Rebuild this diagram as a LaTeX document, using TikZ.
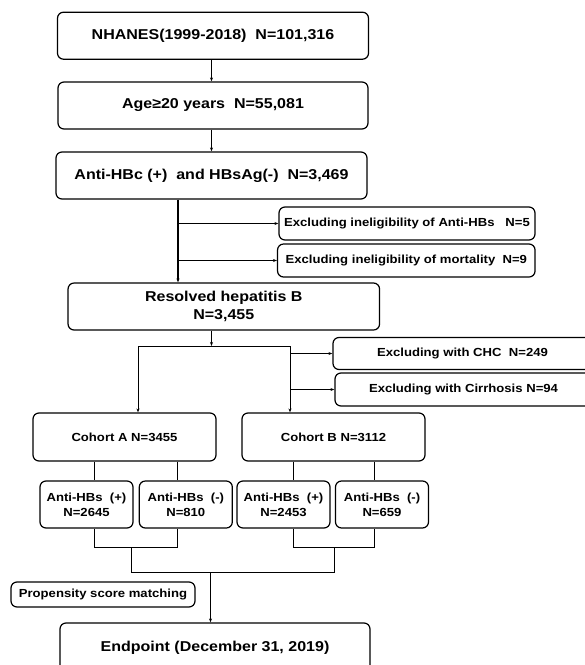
\documentclass[tikz,border=0pt]{standalone}
\usepackage{fontspec}
\setmainfont{Liberation Sans}[FakeStretch=1.12]
\usetikzlibrary{arrows.meta}

\begin{document}
\begin{tikzpicture}[x=1pt,y=-1pt,
  box/.style={draw,rounded corners=6pt,line width=1.2pt,inner sep=0pt,align=center},
  big/.style={font=\bfseries\fontsize{14.3}{18.5}\selectfont},
  small/.style={font=\bfseries\fontsize{11.7}{15}\selectfont},
  link/.style={line width=0.9pt},
  arr/.style={link,-{Stealth[length=4pt,width=3pt]}}]
\useasboundingbox (0,0) rectangle (585,665);
% main stream
\node[box,big,minimum width=311,minimum height=47] (nhanes) at (213,35.7) {NHANES(1999-2018)~~N=101,316};
\node[box,big,minimum width=310,minimum height=47] (age) at (213,105.5) {Age≥20 years~~N=55,081};
\node[box,big,minimum width=311,minimum height=47] (anti) at (211.5,175.5) {Anti-HBc (+)~~and HBsAg(-)~~N=3,469};
\node[box,small,minimum width=256,minimum height=33] (exa) at (407,223.5) {Excluding ineligibility of Anti-HBs~~~N=5};
\node[box,small,minimum width=257.5,minimum height=33] (exm) at (406.3,260.5) {Excluding ineligibility of mortality~~N=9};
\node[box,big,minimum width=311.5,minimum height=47] (res) at (223.8,306.5) {Resolved hepatitis B\\N=3,455};
\node[box,small,minimum width=259,minimum height=32] (chc) at (462.5,353.5) {Excluding with CHC~~N=249};
\node[box,small,minimum width=257,minimum height=33] (cir) at (463.5,389.5) {Excluding with Cirrhosis N=94};
% cohorts
\node[box,small,minimum width=183,minimum height=48] (coA) at (124.5,437) {Cohort A N=3455};
\node[box,small,minimum width=183,minimum height=48] (coB) at (333.5,437) {Cohort B N=3112};
\foreach \n/\x/\s/\v in {aP/86.5/+/2645,aN/185.8/-/810,bP/283.5/+/2453,bN/382/-/659}
  \node[box,small,minimum width=93,minimum height=47] (\n) at (\x,504.5) {Anti-HBs~~(\s)\\N=\v};
\node[box,small,minimum width=184,minimum height=25] (psm) at (103,594.5) {Propensity score matching};
\node[box,big,minimum width=310,minimum height=50] (endp) at (215,648) {Endpoint (December 31, 2019)};
% connectors
\draw[arr] (nhanes.south -| 211.5,0) -- (age.north -| 211.5,0);
\draw[arr] (age.south -| 211.5,0) -- (anti.north -| 211.5,0);
\draw[arr,line width=1.3pt] (anti.south -| 178,0) -- (res.north -| 178,0);
\draw[arr] (exa.west -| 178,0) -- (exa.west);
\draw[arr] (exm.west -| 178,0) -- (exm.west);
\coordinate (split) at (211.5,346);
\coordinate (sl) at (138,346);
\coordinate (sr) at (290,346);
\draw[arr] (res.south -| split) -- (split);
\draw[link] (sl) -- (sr);
\draw[arr] (sl) -- (sl |- coA.north);
\draw[arr] (sr) -- (sr |- coB.north);
\draw[arr] (sr |- chc.west) -- (chc.west);
\draw[arr] (sr |- cir.west) -- (cir.west);
\foreach \c/\l/\r/\p/\q in {coA/aP/aN/94/177,coB/bP/bN/293.6/374} {
  \draw[link] (\c.south -| \p,0) -- (\l.north -| \p,0);
  \draw[link] (\c.south -| \q,0) -- (\r.north -| \q,0);
  \draw[link] (\l.south -| \p,0) -- (\p,547) -- (\q,547) -- (\r.south -| \q,0);
}
\coordinate (join) at (210.5,572);
\draw[link] (131.7,547) -- (131.7,572) -- (334,572) -- (334,547);
\draw[arr] (join) -- (endp.north -| join);
\end{tikzpicture}
\end{document}
